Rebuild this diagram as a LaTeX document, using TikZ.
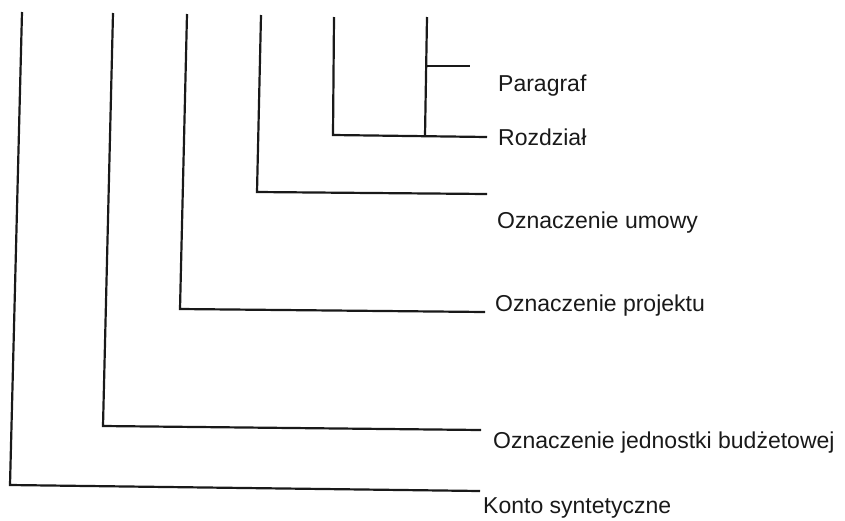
\documentclass[tikz,border=0pt]{standalone}
\usepackage{fontspec}
\setmainfont{Liberation Sans}
\begin{document}
\begin{tikzpicture}[x=1pt,y=-1pt,
  branch/.style={draw=black!90,line width=2.2pt,line join=miter},
  lbl/.style={anchor=base west,inner sep=0pt,text=black!90,
    font=\fontsize{23}{27}\selectfont}]
\useasboundingbox (0,0) rectangle (845,520);

% corner points of the nested brackets
\coordinate (k0) at (22,12);   \coordinate (k1) at (10,485);  \coordinate (k2) at (480,491);
\coordinate (j0) at (113,13);  \coordinate (j1) at (103,426); \coordinate (j2) at (481,430);
\coordinate (p0) at (187,14);  \coordinate (p1) at (180,309); \coordinate (p2) at (485,312);
\coordinate (u0) at (261,15);  \coordinate (u1) at (257,192); \coordinate (u2) at (487,194);
\coordinate (r0) at (334,17);  \coordinate (r1) at (333,135); \coordinate (r2) at (487,137);
\coordinate (g0) at (427,17);  \coordinate (g1) at (425,136);
\coordinate (g2) at (427,66);  \coordinate (g3) at (470,66);

% labels
\node[lbl] (paragraf) at (498,91)  {Paragraf};
\node[lbl] (rozdzial) at (498,145) {Rozdział};
\node[lbl] (umowa)    at (497,228) {Oznaczenie umowy};
\node[lbl] (projekt)  at (495,311) {Oznaczenie projektu};
\node[lbl] (jednostka) at (493,448) {Oznaczenie jednostki budżetowej};
\node[lbl] (konto)    at (483,513) {Konto syntetyczne};

% brackets
\draw[branch] (k0) -- (k1) -- (k2);
\draw[branch] (j0) -- (j1) -- (j2);
\draw[branch] (p0) -- (p1) -- (p2);
\draw[branch] (u0) -- (u1) -- (u2);
\draw[branch] (r0) -- (r1) -- (r2);
\draw[branch] (g0) -- (g1);
\draw[branch,line width=1.6pt] (g2) -- (g3);
\end{tikzpicture}
\end{document}
